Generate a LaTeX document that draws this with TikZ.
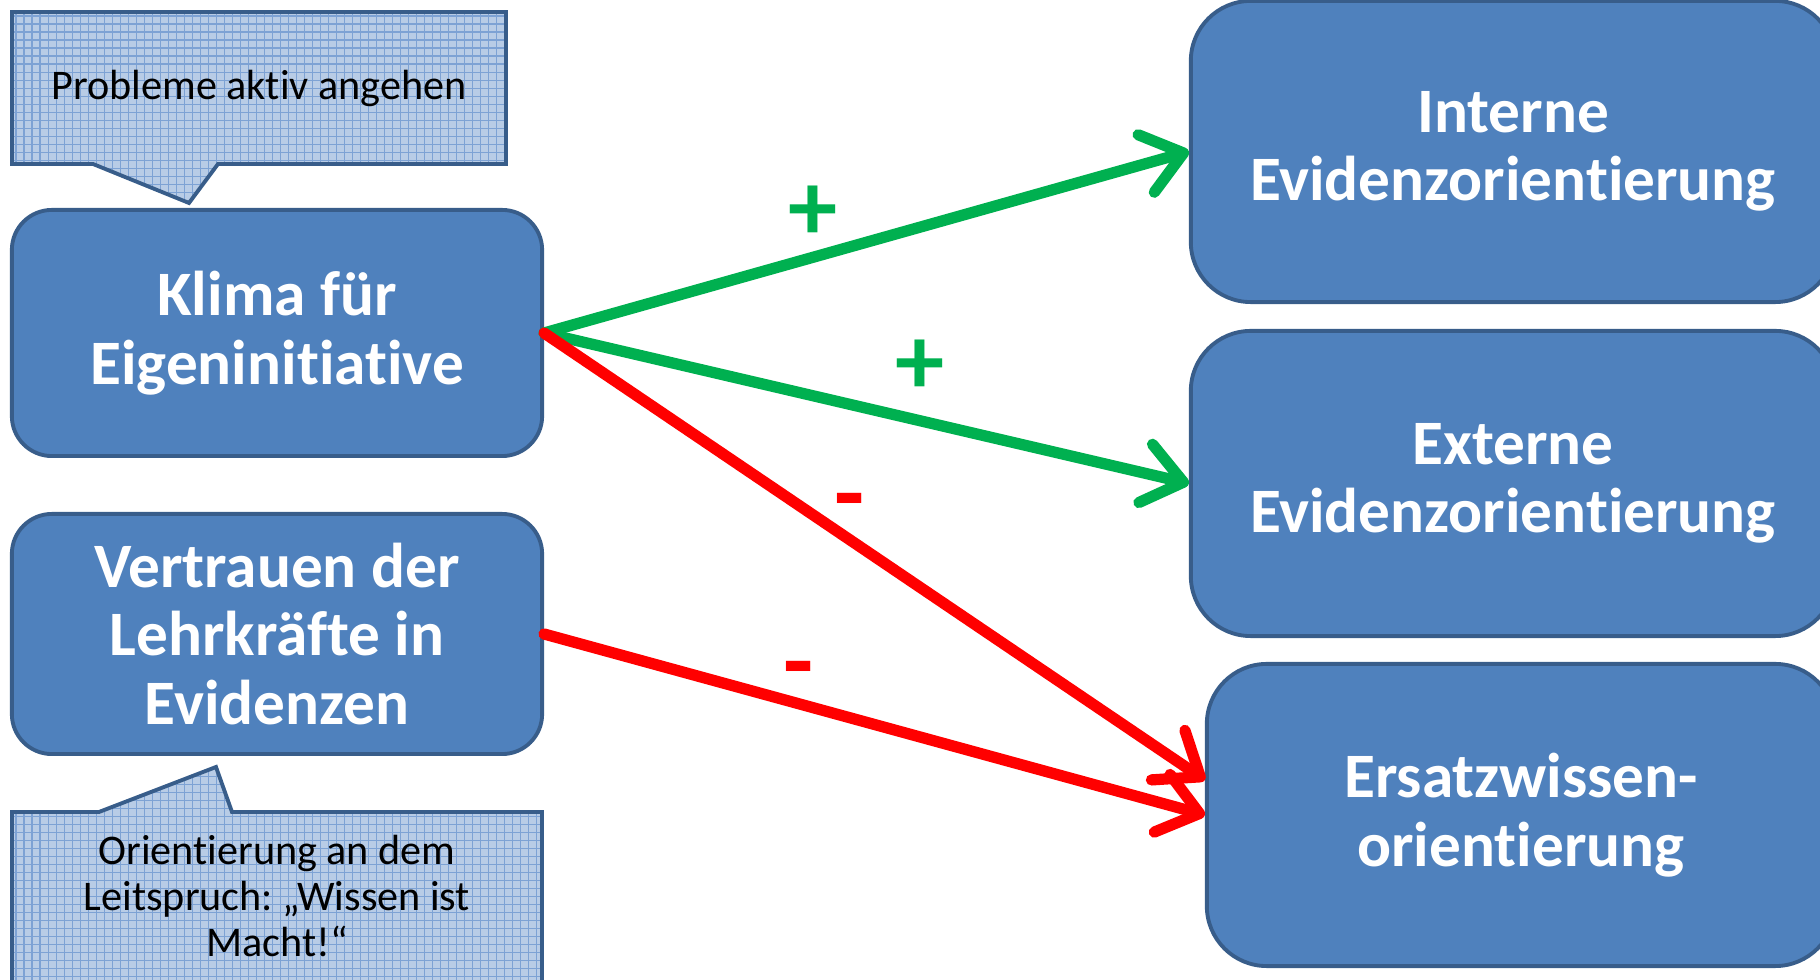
\documentclass[tikz,border=0pt]{standalone}
\usepackage{fontspec}
\setmainfont{Carlito}[Ligatures=TeX, RawFeature={-liga;-clig;-calt;-dlig}]
\usetikzlibrary{arrows.meta}
\definecolor{boxfill}{RGB}{79,129,189}
\definecolor{boxline}{RGB}{56,93,138}
\definecolor{calfill}{RGB}{184,204,230}
\definecolor{calgrid}{RGB}{125,162,212}
\definecolor{pgreen}{RGB}{0,176,80}
\definecolor{pred}{RGB}{255,0,0}
\frenchspacing
\begin{document}
\begin{tikzpicture}[x=0.01cm,y=-0.01cm,
  mainbox/.style={draw=boxline, line width=1.1pt, fill=boxfill, rounded corners=0.4cm,
    text=white, font=\fontsize{18}{19.5}\selectfont\bfseries, align=center, inner sep=0pt},
  bigbox/.style={mainbox, rounded corners=0.6cm},
  caltext/.style={text=black, font=\fontsize{12}{13}\selectfont, align=center, inner sep=0pt},
  calborder/.style={draw=boxline, line width=1.1pt, line join=miter},
  calgridline/.style={draw=calgrid, line width=0.3pt},
  sign/.style={font=\fontsize{28}{28}\selectfont\bfseries, inner sep=0pt},
  garrow/.style={draw=pgreen, line width=3.2pt, line cap=round,
    -{Straight Barb[length=11pt,width=17pt,round]}},
  rarrow/.style={draw=pred, line width=3.2pt, line cap=round,
    -{Straight Barb[length=11pt,width=17pt,round]}}]
\useasboundingbox (0,0) rectangle (1820,980);

% callout 1
\begin{scope}
  \clip (12,12) -- (506,12) -- (506,164) -- (218,164) -- (189,203) -- (93,164) -- (12,164) -- cycle;
  \fill[calfill] (0,0) rectangle (600,260);
  \draw[calgridline, step=0.8mm] (0,0) grid (600,260);
\end{scope}
\draw[calborder] (12,12) -- (506,12) -- (506,164) -- (218,164) -- (189,203) -- (93,164) -- (12,164) -- cycle;
\node[caltext] (c1) at (259,88) {Probleme aktiv angehen};

% callout 2
\begin{scope}
  \clip (12,812) -- (99,812) -- (216,767) -- (232,812) -- (542,812) -- (542,990) -- (12,990) -- cycle;
  \fill[calfill] (0,740) rectangle (600,1000);
  \draw[calgridline, step=0.8mm] (0,740) grid (600,1000);
\end{scope}
\draw[calborder] (12,812) -- (99,812) -- (216,767) -- (232,812) -- (542,812) -- (542,990) -- (12,990) -- cycle;
\node[caltext] (c2) at (277,896) {Orientierung an dem\\Leitspruch: „Wissen ist\\Macht!“};

% boxes
\node[mainbox, minimum width=5.3cm, minimum height=2.46cm] (klima) at (277,333) {Klima für\\Eigeninitiative};
\node[mainbox, minimum width=5.3cm, minimum height=2.4cm] (vertrauen) at (277,634) {Vertrauen der\\Lehrkräfte in\\Evidenzen};
\node[bigbox, minimum width=6.44cm, minimum height=3.01cm] (interne) at (1513,151.5) {Interne\\Evidenzorientierung};
\node[bigbox, minimum width=6.44cm, minimum height=3.05cm] (externe) at (1513,483.5) {Externe\\Evidenzorientierung};
\node[bigbox, minimum width=6.28cm, minimum height=3.02cm] (ersatz) at (1521,815) {Ersatzwissen-\\orientierung};

% arrows
\draw[garrow] (klima.east) -- (interne.west);
\draw[garrow] (klima.east) -- (externe.west);
\draw[rarrow] (klima.east) -- ([yshift=0.35cm]ersatz.west);
\draw[rarrow] (vertrauen.east) -- (ersatz.west);

% signs
\node[sign, text=pgreen] (p1) at (813,213) {+};
\node[sign, text=pgreen] (p2) at (920,367) {+};
\node[sign, text=pred] (m1) at (850,510) {-};
\node[sign, text=pred] (m2) at (799,678) {-};
\end{tikzpicture}
\end{document}
